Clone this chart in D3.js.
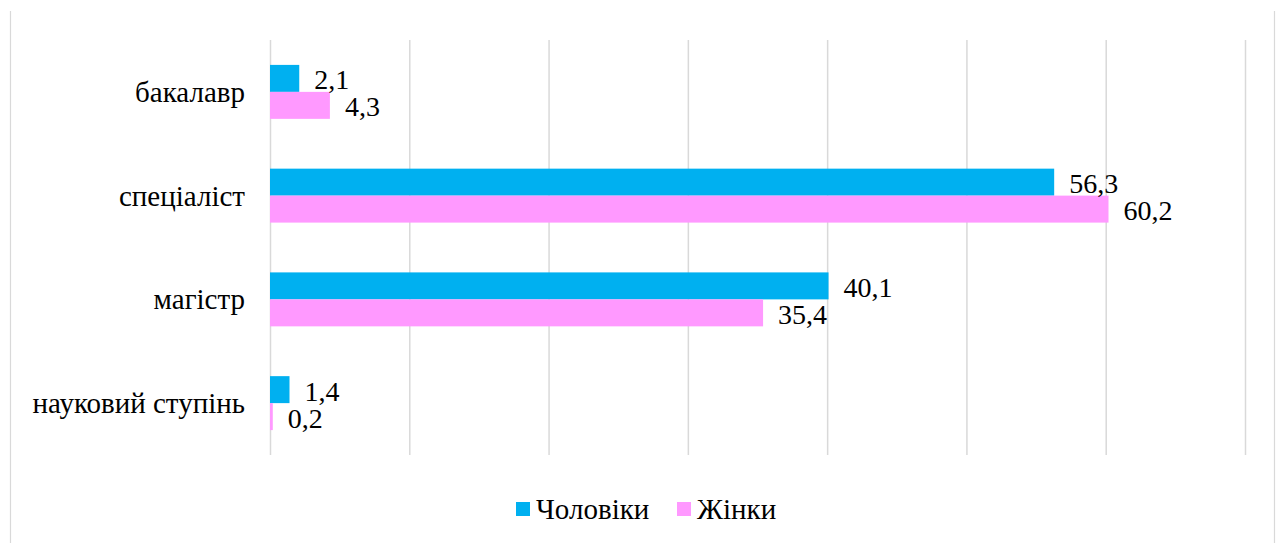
<!DOCTYPE html>
<html>
<head>
<meta charset="utf-8">
<script src="https://cdn.jsdelivr.net/npm/d3@7"></script>
<style>
  * { font-family: "Times New Roman", "Liberation Serif", Tinos, serif !important; }
</style>
</head>
<body style="margin:0">
<script>
const categories = ["бакалавр", "спеціаліст", "магістр", "науковий ступінь"];
const seriesNames = ["Чоловіки", "Жінки"];
const men = [2.1, 56.3, 40.1, 1.4];
const women = [4.3, 60.2, 35.4, 0.2];
const xTicks = [0, 10, 20, 30, 40, 50, 60, 70];
const colors = ["#00B0F0", "#FF99FF"];

const FONT = "Times New Roman";
const W = 1279, H = 543;
const margin = { left: 270, right: 34, top: 40, bottom: 88 };

const svg = d3.select("body").append("svg").attr("width", W).attr("height", H)
  .style("display", "block");

svg.append("line").attr("x1", 10.5).attr("x2", 10.5).attr("y1", 11).attr("y2", H)
  .attr("stroke", "#d9d9d9").attr("stroke-width", 1.2);
svg.append("line").attr("x1", 1274.5).attr("x2", 1274.5).attr("y1", 11).attr("y2", H)
  .attr("stroke", "#d9d9d9").attr("stroke-width", 1.2);

const x = d3.scaleLinear().domain([0, 70]).range([margin.left, W - margin.right]);
const y = d3.scaleBand().domain(categories).range([margin.top, H - margin.bottom]).paddingInner(0.48).paddingOuter(0.24);
const ySub = d3.scaleBand().domain(seriesNames).range([0, y.bandwidth()]);

svg.append("g").selectAll("line").data(xTicks).join("line")
  .attr("x1", d => x(d) + 0.5).attr("x2", d => x(d) + 0.5)
  .attr("y1", margin.top).attr("y2", H - margin.bottom)
  .attr("stroke", "#d9d9d9").attr("stroke-width", 1.5);

const rows = categories.map((c, i) => ({ c, vals: [men[i], women[i]] }));

const g = svg.append("g").selectAll("g").data(rows).join("g")
  .attr("transform", d => `translate(0,${y(d.c)})`);

g.selectAll("rect").data(d => d.vals.map((v, j) => ({ v, s: seriesNames[j], j }))).join("rect")
  .attr("x", x(0)).attr("y", d => ySub(d.s))
  .attr("width", d => x(d.v) - x(0)).attr("height", ySub.bandwidth())
  .attr("fill", d => colors[d.j]);

g.selectAll("text.val").data(d => d.vals.map((v, j) => ({ v, s: seriesNames[j], j }))).join("text")
  .attr("class", "val")
  .attr("font-family", FONT)
  .attr("x", d => x(d.v) + 15)
  .attr("y", d => ySub(d.s) + ySub.bandwidth() / 2 + 11)
  .attr("font-size", 28)
  .text(d => String(d.v.toFixed(1)).replace(".", ","));

svg.append("g").selectAll("text").data(categories).join("text")
  .attr("font-family", FONT)
  .attr("x", 245).attr("y", d => y(d) + y.bandwidth() / 2 + 10)
  .attr("text-anchor", "end").attr("font-size", 29)
  .text(d => d);

const legendItems = [{ name: seriesNames[0], x: 516 }, { name: seriesNames[1], x: 677 }];
const lg = svg.append("g").selectAll("g").data(legendItems).join("g")
  .attr("transform", d => `translate(${d.x},502)`);
lg.append("rect").attr("width", 14).attr("height", 14).attr("fill", (d, i) => colors[i]);
lg.append("text").attr("font-family", FONT).attr("x", 20).attr("y", 17).attr("font-size", 29).text(d => d.name);
</script>
</body>
</html>
